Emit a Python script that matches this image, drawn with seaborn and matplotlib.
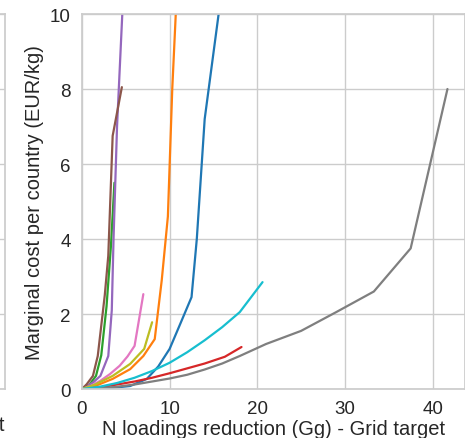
import numpy as np
import pandas as pd
from matplotlib import pyplot as plt
import seaborn as sns

# marginal cost curves per country (x: Gg, y: EUR/kg)
c1_x = [0, 3, 5.5, 7.4, 8.7, 10, 11.2, 12.5, 13.1, 14.0, 16.5]
c1_y = [0, 0.02, 0.08, 0.27, 0.6, 1.07, 1.73, 2.45, 4.0, 7.2, 11.6]
c2_x = [0, 1.5, 3.5, 5.5, 7.0, 8.3, 9.1, 9.8, 10.3, 10.9]
c2_y = [0, 0.08, 0.27, 0.53, 0.88, 1.33, 2.9, 4.6, 8.0, 11.0]
c3_x = [0, 0.8, 1.6, 2.2, 2.8, 3.3, 3.7]
c3_y = [0, 0.1, 0.35, 0.9, 2.2, 3.8, 5.5]
c4_x = [0, 2, 4, 6, 8, 10, 12, 14, 16.3, 18.2]
c4_y = [0, 0.04, 0.12, 0.2, 0.3, 0.42, 0.55, 0.68, 0.86, 1.12]
c5_x = [0, 1.3, 2.1, 3.0, 3.4, 3.6, 4.0, 4.6, 4.8]
c5_y = [0, 0.18, 0.35, 0.88, 2.1, 4.0, 7.0, 10.0, 11.0]
c6_x = [0, 0.55, 1.25, 1.8, 2.6, 3.0, 3.5, 4.55]
c6_y = [0, 0.13, 0.35, 0.88, 2.5, 3.55, 6.75, 8.05]
c7_x = [0, 1, 2.1, 3.2, 4.3, 5.2, 6.0, 7.0]
c7_y = [0, 0.08, 0.22, 0.4, 0.62, 0.87, 1.15, 2.53]
c8_x = [0, 2, 4, 6, 8, 10, 12, 14, 16, 18, 21, 25, 29, 33.3, 37.5, 41.7]
c8_y = [0, 0.02, 0.06, 0.12, 0.2, 0.28, 0.38, 0.52, 0.68, 0.88, 1.2, 1.55, 2.05, 2.6, 3.75, 8.0]
c9_x = [0, 1.5, 3.5, 5.5, 7.1, 8.0]
c9_y = [0, 0.12, 0.35, 0.67, 1.07, 1.78]
c10_x = [0, 2, 4, 6, 8, 10, 12, 14, 16, 18, 20.6]
c10_y = [0, 0.06, 0.16, 0.3, 0.48, 0.7, 0.98, 1.3, 1.65, 2.05, 2.85]

countries = ["c1", "c2", "c3", "c4", "c5", "c6", "c7", "c8", "c9", "c10"]
xs = [c1_x, c2_x, c3_x, c4_x, c5_x, c6_x, c7_x, c8_x, c9_x, c10_x]
ys = [c1_y, c2_y, c3_y, c4_y, c5_y, c6_y, c7_y, c8_y, c9_y, c10_y]

rows = []
for name, x, y in zip(countries, xs, ys):
    for a, b in zip(x, y):
        rows.append((name, a, b))
df = pd.DataFrame(rows, columns=["country", "reduction", "cost"])

sns.set_theme(style="whitegrid")
plt.rcParams['font.family'] = ['Liberation Sans', 'DejaVu Sans']

fig = plt.figure(figsize=(4.65, 4.39), dpi=100)

# neighbouring panel, almost fully cut off on the left
ax0 = fig.add_axes([-0.40, 0.1116, 0.41075, 0.8542])
ax0.set_ylim(0, 10)
ax0.set_xlim(0, 40)
ax0.set_xticks([])
ax0.set_yticklabels([])
ax0.set_xlabel("N loadings reduction (Gg) - Country target", fontsize=14.5,
               loc='right', labelpad=19)

ax = fig.add_axes([0.1763, 0.1116, 0.8237, 0.8542])
sns.lineplot(data=df, x="reduction", y="cost", hue="country", hue_order=countries,
             palette="tab10", estimator=None, sort=False, legend=False,
             linewidth=1.6, ax=ax)
ax.set_xlim(0, 43.7)
ax.set_ylim(0, 10)
ax.set_xticks([0, 10, 20, 30, 40])
ax.set_yticks([0, 2, 4, 6, 8, 10])
ax.tick_params(labelsize=13.5, pad=2)
ax.set_xlabel("N loadings reduction (Gg) - Grid target", fontsize=14.5, labelpad=1)
ax.set_ylabel("Marginal cost per country (EUR/kg)", fontsize=14.5, labelpad=4)

plt.savefig("out.png", dpi=100)
